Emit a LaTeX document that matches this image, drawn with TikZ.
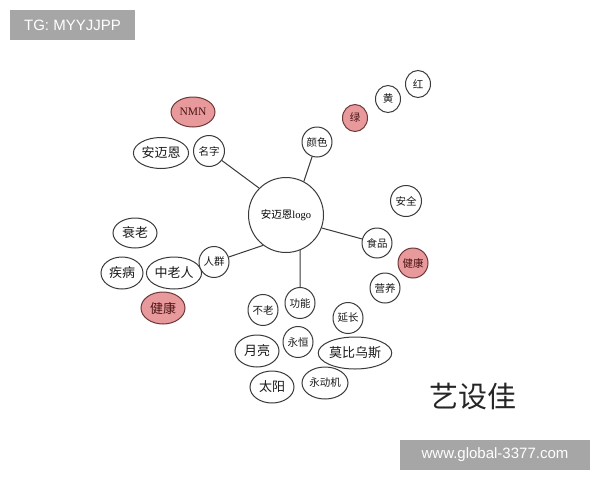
\documentclass[tikz,border=0pt]{standalone}
\usepackage{fontspec}
\setmainfont{Liberation Serif}
\newfontfamily\cjk{Noto Sans CJK SC}
\newfontfamily\wm{Liberation Sans}
\usetikzlibrary{shapes.geometric}
\definecolor{linec}{HTML}{3A3A3A}
\definecolor{pinkf}{HTML}{E8999B}
\definecolor{pinkd}{HTML}{6E3838}
\definecolor{pinkt}{HTML}{4A1515}
\definecolor{wmgray}{HTML}{A6A6A6}
\tikzset{
  bub/.style={ellipse, draw=linec, line width=1pt, fill=white, inner sep=0pt, text=black!90,
              font=\cjk\fontsize{10.5}{12}\selectfont},
  big/.style={font=\cjk\fontsize{13}{15}\selectfont},
  hot/.style={bub, fill=pinkf, draw=pinkd, text=pinkt},
  link/.style={draw=linec, line width=1pt},
  wmbox/.style={fill=wmgray, text=white, inner sep=0pt, font=\wm\fontsize{15}{18}\selectfont}
}
\begin{document}
\begin{tikzpicture}[x=1pt,y=-1pt]
\useasboundingbox (0,0) rectangle (600,480);
\fill[white] (0,0) rectangle (600,480);
% watermark boxes
\node[wmbox, minimum width=125pt, minimum height=30pt] (tg) at (72.5,25) {TG: MYYJJPP};
\node[wmbox, minimum width=190pt, minimum height=30pt] (www) at (495,455) {www.global-3377.com};
% centre
\node[circle, draw=linec, line width=1pt, minimum size=75pt, inner sep=0pt, font=\fontsize{10.5}{12}\selectfont] (c) at (286,215) {{\cjk 安迈恩}logo};
% left top
\node[hot, minimum width=44pt, minimum height=30pt, font=\fontsize{11.5}{13}\selectfont] (nmn) at (193,112) {NMN};
\node[bub, big, minimum width=44pt, minimum height=31pt] (amn) at (161,153) {安迈恩};
\node[bub, minimum width=31pt, minimum height=31pt] (mz) at (209,151) {名字};
% colours
\node[bub, minimum width=30pt, minimum height=30pt] (ys) at (317,142) {颜色};
\node[hot, minimum width=25pt, minimum height=27pt] (lv) at (355,118) {绿};
\node[bub, minimum width=25pt, minimum height=27pt] (hu) at (388,99) {黄};
\node[bub, minimum width=25pt, minimum height=27pt] (ho) at (418,84) {红};
% food
\node[bub, minimum width=31pt, minimum height=31pt] (aq) at (406,201) {安全};
\node[bub, minimum width=30pt, minimum height=30pt] (sp) at (377,243) {食品};
\node[hot, minimum width=30pt, minimum height=30pt] (jk2) at (413,263) {健康};
\node[bub, minimum width=30pt, minimum height=30pt] (yy) at (385,288) {营养};
% people
\node[bub, big, minimum width=44pt, minimum height=30pt] (sl) at (135,233) {衰老};
\node[bub, big, minimum width=42pt, minimum height=32pt] (jb) at (122,273) {疾病};
\node[bub, big, minimum width=44pt, minimum height=32pt] (zlr) at (174,273) {中老人};
\node[hot, big, minimum width=44pt, minimum height=32pt] (jk1) at (163,308) {健康};
\node[bub, minimum width=30pt, minimum height=31pt] (rq) at (214,262) {人群};
% function
\node[bub, minimum width=30pt, minimum height=31pt] (gn) at (300,303) {功能};
\node[bub, minimum width=30pt, minimum height=31pt] (bl) at (263,310) {不老};
\node[bub, minimum width=30pt, minimum height=31pt] (yc) at (348,318) {延长};
\node[bub, minimum width=30pt, minimum height=31pt] (yh) at (298,342) {永恒};
\node[bub, big, minimum width=44pt, minimum height=32pt] (yl) at (257,351) {月亮};
\node[bub, big, minimum width=60pt, minimum height=32pt] (mb) at (355,353) {莫比乌斯};
\node[bub, big, minimum width=44pt, minimum height=32pt] (ty) at (272,387) {太阳};
\node[bub, minimum width=46pt, minimum height=32pt] (ydj) at (325,383) {永动机};
% brand
\node[font=\cjk\fontsize{29}{32}\selectfont, text=black!85] (ysj) at (473,397) {艺设佳};
% connectors
\draw[link] (c.135) -- (mz);
\draw[link] (c.62) -- (ys);
\draw[link] (c.-20) -- (sp);
\draw[link] (c.233) -- (rq);
\draw[link] (c.-68) -- (gn.north);
\end{tikzpicture}
\end{document}
